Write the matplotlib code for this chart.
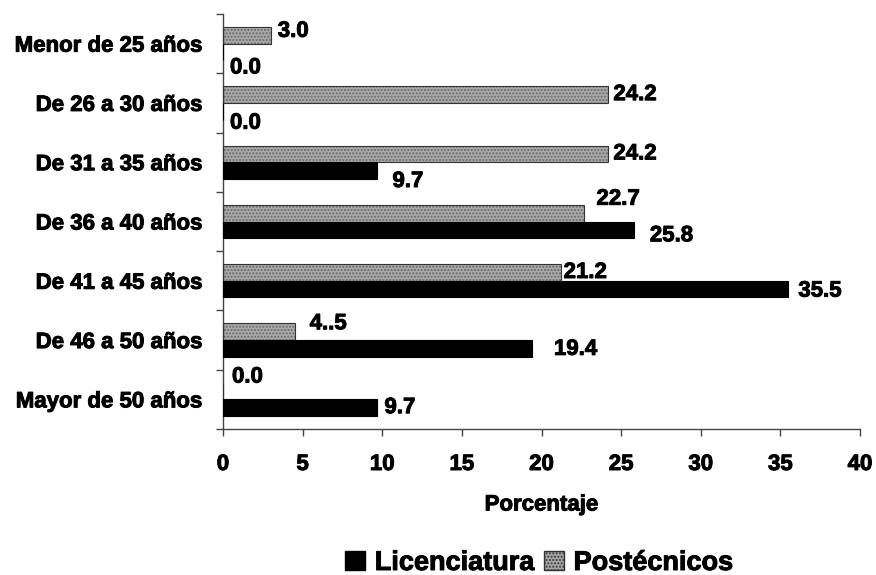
import matplotlib
matplotlib.use("Agg")
import matplotlib.pyplot as plt
import matplotlib.patheffects as pe
from matplotlib.patches import Patch
import numpy as np

categories = ["Menor de 25 años", "De 26 a 30 años", "De 31 a 35 años",
              "De 36 a 40 años", "De 41 a 45 años", "De 46 a 50 años",
              "Mayor de 50 años"]
licenciatura = [0.0, 0.0, 9.7, 25.8, 35.5, 19.4, 9.7]
postecnicos = [3.0, 24.2, 24.2, 22.7, 21.2, 4.5, 0.0]
lic_labels = ["0.0", "0.0", "9.7", "25.8", "35.5", "19.4", "9.7"]
post_labels = ["3.0", "24.2", "24.2", "22.7", "21.2", "4..5", "0.0"]
x_ticks = [0, 5, 10, 15, 20, 25, 30, 35, 40]
x_label = "Porcentaje"
series_names = ["Licenciatura", "Postécnicos"]

# label offsets in pixels (dx, dy; dy up)
lic_off = [(7, -16), (7, -12), (15, -11), (16, -6), (10, -2), (22, -1), (7, 0)]
post_off = [(7, 4), (5, 0), (5, 0), (12, 14), (3, 0), (15, 8), (9, 14)]

plt.rcParams['font.family'] = ['Liberation Sans', 'DejaVu Sans']
plt.rcParams['font.weight'] = 'bold'
thick = [pe.withStroke(linewidth=0.7, foreground='black')]

W, H = 876, 575
fig = plt.figure(figsize=(W / 100, H / 100), dpi=100)
ax = fig.add_axes([223 / W, 1 - 429 / H, (860 - 223) / W, (429 - 14) / H])

y = np.arange(len(categories))
bh = 0.28
grey_y = y - bh / 2
black_y = y + bh / 2

ax.barh(grey_y, postecnicos, height=bh, color='#a9a9a9', edgecolor='#6a6a6a',
        hatch='.....', linewidth=0, zorder=2)
ax.barh(grey_y, postecnicos, height=bh, facecolor='none', edgecolor='#333333',
        linewidth=0.8, zorder=3)
ax.barh(black_y, licenciatura, height=bh, color='black', edgecolor='black',
        linewidth=0.8, zorder=4)

for i in range(len(categories)):
    ax.annotate(post_labels[i], xy=(postecnicos[i], grey_y[i]),
                xytext=post_off[i], textcoords='offset pixels',
                ha='left', va='center', fontsize=16, fontweight='bold', zorder=1,
                path_effects=thick)
    ax.annotate(lic_labels[i], xy=(licenciatura[i], black_y[i]),
                xytext=lic_off[i], textcoords='offset pixels',
                ha='left', va='center', fontsize=16, fontweight='bold', zorder=5,
                path_effects=thick)

ax.set_xlim(0, 40)
ax.set_ylim(len(categories) - 0.5, -0.5)
ax.set_xticks(x_ticks)
ax.set_xticklabels([str(t) for t in x_ticks], fontsize=16, fontweight='bold')
ax.set_yticks(y)
ax.set_yticklabels(categories, fontsize=16, fontweight='bold')
ax.set_yticks(np.arange(len(categories) + 1) - 0.5, minor=True)
ax.tick_params(axis='y', which='major', length=0, pad=15)
ax.tick_params(axis='y', which='minor', length=5, width=1, color='#444444')
ax.tick_params(axis='x', which='major', length=5, width=1, color='#444444', pad=13)
for lbl in ax.get_xticklabels() + ax.get_yticklabels():
    lbl.set_path_effects(thick)

for s in ['top', 'right']:
    ax.spines[s].set_visible(False)
for s in ['left', 'bottom']:
    ax.spines[s].set_color('#444444')
    ax.spines[s].set_linewidth(1)

ax.set_xlabel(x_label, fontsize=16, fontweight='bold')
ax.xaxis.set_label_coords(0.5, (429 - 505) / (429 - 14))
ax.xaxis.label.set_va('center')
ax.xaxis.label.set_path_effects(thick)

handles = [Patch(facecolor='black', edgecolor='black'),
           Patch(facecolor='#a9a9a9', edgecolor='#333333', hatch='.....')]
leg = fig.legend(handles, series_names, loc='center', ncol=2,
                 bbox_to_anchor=(539 / W, 1 - 563 / H), frameon=False,
                 prop={'size': 19.5, 'weight': 'bold'},
                 handlelength=0.75, handleheight=0.75, handletextpad=0.35,
                 columnspacing=0.35)
for t in leg.get_texts():
    t.set_path_effects(thick)

fig.savefig("out.png", dpi=100)
